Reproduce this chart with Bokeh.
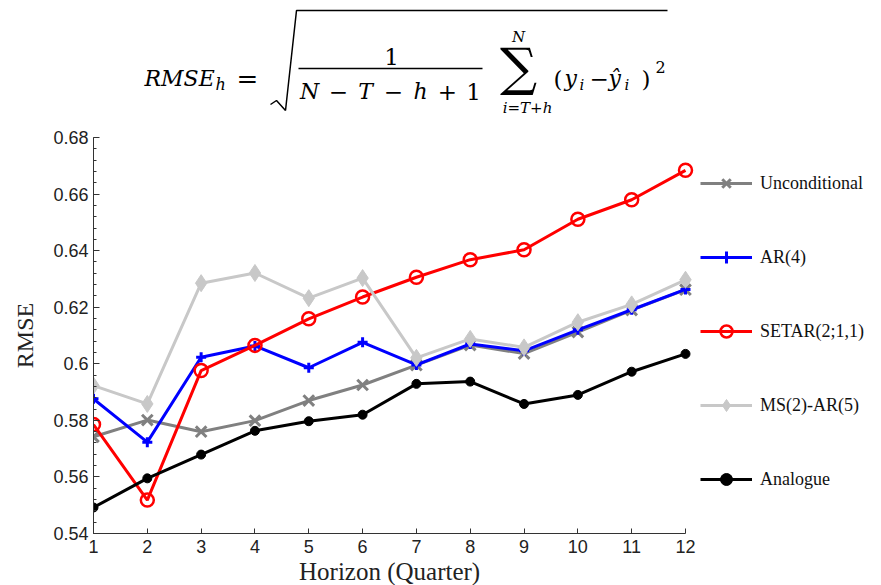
from bokeh.plotting import figure
from bokeh.layouts import column
from bokeh.models import (Range1d, FixedTicker, Legend, LegendItem, ColumnDataSource, Title)
from bokeh.core.properties import value
from bokeh.embed import file_html
from bokeh.resources import INLINE

# Forecast horizon (quarters) and RMSE per model
horizons = [1, 2, 3, 4, 5, 6, 7, 8, 9, 10, 11, 12]
unconditional = [0.5742, 0.5801, 0.5760, 0.5799, 0.5870, 0.5925, 0.5995, 0.6066, 0.6036, 0.6112, 0.6190, 0.6262]
ar4 = [0.5876, 0.5723, 0.6023, 0.6063, 0.5986, 0.6076, 0.5996, 0.6070, 0.6046, 0.6120, 0.6191, 0.6263]
setar = [0.5785, 0.5518, 0.5976, 0.6065, 0.6159, 0.6236, 0.6306, 0.6368, 0.6403, 0.6511, 0.6580, 0.6684]
ms_ar5 = [0.5923, 0.5858, 0.6285, 0.6321, 0.6232, 0.6303, 0.6021, 0.6088, 0.6058, 0.6147, 0.6210, 0.6297]
analogue = [0.5492, 0.5595, 0.5679, 0.5763, 0.5797, 0.5820, 0.5929, 0.5937, 0.5858, 0.5890, 0.5972, 0.6035]

y_ticks = [0.54, 0.56, 0.58, 0.6, 0.62, 0.64, 0.66, 0.68]
y_tick_labels = ["0.54", "0.56", "0.58", "0.6", "0.62", "0.64", "0.66", "0.68"]

series = [
    ("Unconditional", unconditional, "#808080", "x", 15, "#808080", 3),
    ("AR(4)", ar4, "#0000ff", "cross", 10, "#0000ff", 3),
    ("SETAR(2;1,1)", setar, "#ff0000", "circle", 13, None, 2.5),
    ("MS(2)-AR(5)", ms_ar5, "#c8c8c8", "diamond", 17, "#c8c8c8", 1),
    ("Analogue", analogue, "#000000", "circle", 9, "#000000", 1),
]

SERIF = "DejaVu Serif"
PAGE_W = 881
LEFT = 93            # left border shared by both stacked figures
AXIS_END_PX = 685    # where the horizon axis stops; the legend lives to its right
# the frame runs to the page edge, so stretch the x range past h=12 to leave room for the legend
X_END = horizons[0] + (horizons[-1] - horizons[0]) * (PAGE_W - LEFT) / (AXIS_END_PX - LEFT)

# ---- formula header: RMSE_h = sqrt( 1/(N-T-h+1) * sum_{i=T+h}^{N} (y_i - yhat_i)^2 )
head = figure(width=PAGE_W, height=125, x_range=Range1d(LEFT, PAGE_W), y_range=Range1d(125, 0),
              output_backend="svg", toolbar_location=None, x_axis_type=None, y_axis_type=None,
              min_border_left=LEFT, min_border_right=0, min_border_top=0, min_border_bottom=0,
              outline_line_color=None)
head.grid.visible = False


def put(xs, ys, texts, size, style="italic", align="left", baseline="alphabetic"):
    src = ColumnDataSource(dict(x=xs, y=ys, t=texts))
    head.text(x="x", y="y", text="t", source=src, text_font=value(SERIF),
              text_font_style=style, text_font_size=size, text_align=align,
              text_baseline=baseline, text_color="#000000")


put([144], [78], ["RMSE"], "22px")
put([215], [84], ["h"], "16px")
put([236], [78], ["="], "26px", style="normal")
# radical sign and its overbar
head.line(x=[270, 276, 285, 296, 667], y=[104, 100, 110, 10, 10], line_color="#000000", line_width=1.5)
# fraction
put([391], [56], ["1"], "23px", style="normal", align="center")
head.line(x=[298, 482], y=[68, 68], line_color="#000000", line_width=1.5)
put([309, 365, 420], [91, 91, 91], ["N", "T", "h"], "22px", align="center")
put([338, 393, 447, 473], [91, 91, 91, 91], ["\u2212", "\u2212", "+", "1"], "23px",
    style="normal", align="center")
# summation
put([518], [66], ["\u2211"], "52px", style="normal", align="center", baseline="middle")
put([518], [36], ["N"], "15px", align="center")
put([527], [107], ["i=T+h"], "15px", align="center")
# squared error term
put([553, 589, 641], [78, 78, 78], ["(", "\u2212", ")"], "23px", style="normal")
put([564, 608], [78, 78], ["y", "\u0177"], "22px")
put([579, 624], [84, 84], ["i", "i"], "15px")
put([655], [66], ["2"], "16px", style="normal")

# ---- main chart
p = figure(width=PAGE_W, height=460, x_range=Range1d(horizons[0], X_END), y_range=Range1d(0.54, 0.68),
           output_backend="svg", toolbar_location=None,
           min_border_left=LEFT, min_border_right=0, min_border_top=12, min_border_bottom=52)
p.grid.visible = False
p.outline_line_color = None

items = []
for name, vals, color, marker, msize, fill, mlw in series:
    src = ColumnDataSource(dict(h=horizons, v=vals))
    ln = p.line("h", "v", source=src, line_color=color, line_width=3)
    sc = p.scatter("h", "v", source=src, marker=marker, size=msize, line_color=color,
                   line_width=mlw if marker not in ("x", "cross") else 3,
                   fill_color=fill if fill else None, fill_alpha=1 if fill else 0)
    items.append(LegendItem(label=name, renderers=[ln, sc]))

# legend to the right of the axis end; the tuple is its bottom-left corner in frame pixels
legend = Legend(items=items, location=(AXIS_END_PX - LEFT + 15, 39), orientation="vertical",
                glyph_width=52, glyph_height=30, label_height=30, spacing=44,
                padding=0, margin=0, label_standoff=8,
                background_fill_alpha=0, border_line_color=None,
                label_text_font="Liberation Serif", label_text_font_size="18px",
                label_text_color="#111111")
p.add_layout(legend)

for ax in (p.xaxis[0], p.yaxis[0]):
    ax.axis_line_color = "#333333"
    ax.major_tick_line_color = "#333333"
    ax.minor_tick_line_color = "#333333"
    ax.major_tick_out = 0
    ax.minor_tick_out = 0
    ax.major_label_text_font = "Liberation Sans"
    ax.major_label_text_font_size = "18px"
    ax.major_label_text_color = "#222222"
    ax.axis_label_text_font = "Liberation Serif"
    ax.axis_label_text_font_style = "normal"
    ax.axis_label_text_font_size = "24px"
    ax.axis_label_text_color = "#222222"

p.xaxis.ticker = FixedTicker(ticks=horizons)
p.xaxis.bounds = (horizons[0], horizons[-1])
p.xaxis.major_tick_in = 5
p.xaxis.minor_tick_in = 0
p.xaxis.major_label_standoff = 6

# horizon caption, centred under the bounded axis rather than the wider frame
XLABEL_W = 181
p.add_layout(Title(text="Horizon (Quarter)", align="left",
                   offset=(AXIS_END_PX - LEFT) / 2 - XLABEL_W / 2, standoff=0,
                   text_font="Liberation Serif", text_font_style="normal",
                   text_font_size="25px", text_color="#222222"), "below")

minor = [round(0.54 + 0.004 * k, 3) for k in range(36)]
p.yaxis.ticker = FixedTicker(ticks=y_ticks, minor_ticks=minor)
p.yaxis.major_label_overrides = dict(zip(y_ticks, y_tick_labels))
p.yaxis.major_tick_in = 6
p.yaxis.minor_tick_in = 3
p.yaxis.major_label_standoff = 5
p.yaxis.axis_label = "RMSE"
p.yaxis.axis_label_standoff = 12

layout = column(head, p, spacing=0)
open("out.html", "w").write(file_html(layout, INLINE))
